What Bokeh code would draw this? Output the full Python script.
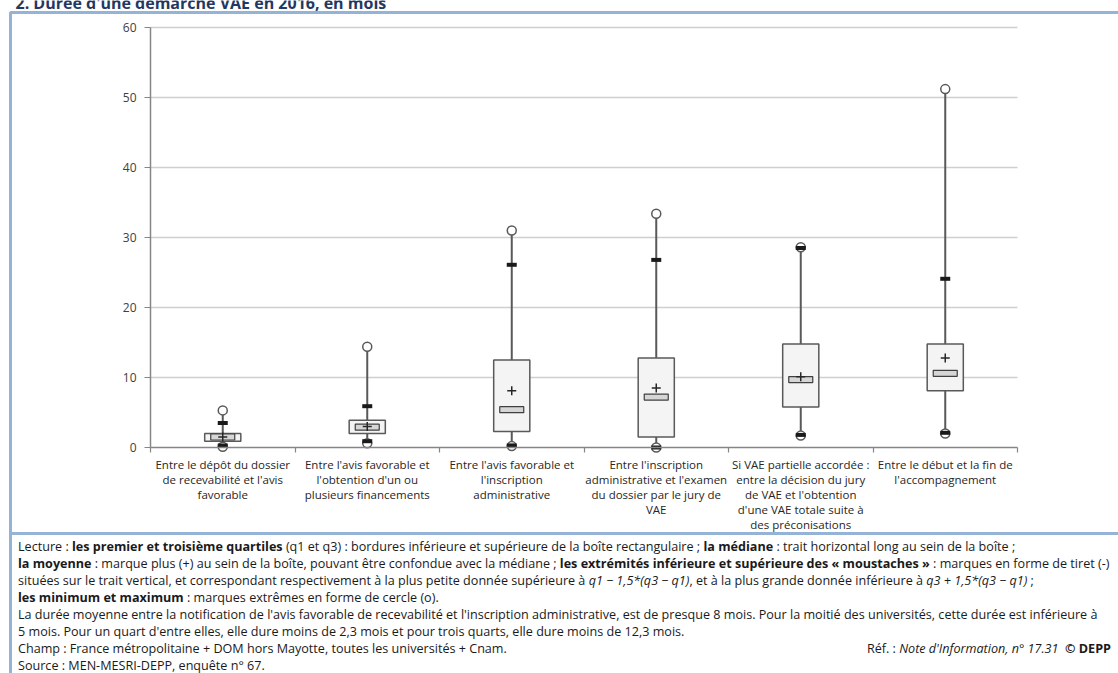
from bokeh.plotting import figure
from bokeh.models import Range1d, FixedTicker, LinearAxis, Div
from bokeh.core.properties import value
from bokeh.layouts import column
from bokeh.embed import file_html
from bokeh.resources import INLINE

# ---------------- data ----------------
categories = [
    "Entre le dépôt du dossier\nde recevabilité et l'avis\nfavorable",
    "Entre l'avis favorable et\nl'obtention d'un ou\nplusieurs financements",
    "Entre l'avis favorable et\nl'inscription\nadministrative",
    "Entre l'inscription\nadministrative et l'examen\ndu dossier par le jury de\nVAE",
    "Si VAE partielle accordée :\nentre la décision du jury\nde VAE et l'obtention\nd'une VAE totale suite à\ndes préconisations",
    "Entre le début et la fin de\nl'accompagnement",
]
minimum = [0.1, 0.6, 0.2, 0.0, 1.7, 2.0]
whisker_low = [0.3, 0.9, 0.3, 0.0, 1.8, 2.1]
q1 = [0.9, 2.0, 2.3, 1.5, 5.8, 8.1]
median = [1.5, 2.9, 5.4, 7.2, 9.7, 10.6]
mean = [1.5, 3.0, 8.1, 8.5, 10.1, 12.8]
q3 = [2.0, 3.9, 12.5, 12.8, 14.8, 14.8]
whisker_high = [3.5, 5.9, 26.1, 26.8, 28.5, 24.1]
maximum = [5.3, 14.4, 31.0, 33.4, 28.6, 51.2]
y_ticks = [0, 10, 20, 30, 40, 50, 60]

title = "2. Durée d'une démarche VAE en 2016, en mois"

# ---------------- layout (pixels of the page) ----------------
W, H = 1118, 536
PX_L, PX_R = 150, 1017          # plot area left / right
PY_T, PY_B = 27, 447            # plot area top (y=60) / bottom (y=0)
N = len(categories)
UX = (PX_R - PX_L) / N
UY = (PY_B - PY_T) / (y_ticks[-1] - y_ticks[0])


def px(v):
    return (v - PX_L) / UX


def py(v):
    return (PY_B - v) / UY


FONT = "Open Sans"
BLUE = "#95b3d7"
GREY = "#595959"

xs = [i + 0.5 for i in range(N)]

p = figure(width=W, height=H, x_range=Range1d(px(0), px(W)), y_range=Range1d(py(H), py(0)),
           output_backend="svg", toolbar_location=None, min_border=0,
           x_axis_type=None, y_axis_type=None,
           background_fill_color="white", border_fill_color="white")
p.outline_line_color = None
p.grid.visible = False
p.margin = 0

# y axis at x = 0
yax = LinearAxis(fixed_location=0, bounds=(y_ticks[0], y_ticks[-1]),
                 ticker=FixedTicker(ticks=y_ticks))
yax.axis_line_color = "#868686"
yax.axis_line_width = 1.5
yax.major_tick_line_color = "#868686"
yax.major_tick_out = 6
yax.major_tick_in = 0
yax.minor_tick_line_color = None
yax.major_label_text_font = FONT
yax.major_label_text_font_size = "12px"
yax.major_label_text_color = "#404040"
yax.major_label_standoff = 8
p.add_layout(yax, "left")

# x axis at y = 0 with separators between categories
xax = LinearAxis(fixed_location=0, bounds=(0, N),
                 ticker=FixedTicker(ticks=[], minor_ticks=list(range(N + 1))))
xax.axis_line_color = "#868686"
xax.axis_line_width = 1.5
xax.minor_tick_line_color = "#868686"
xax.minor_tick_out = 5
xax.minor_tick_in = 0
xax.minor_tick_line_width = 1.2
p.add_layout(xax, "below")

# horizontal grid lines
gy = y_ticks[1:]
p.segment(x0=[0] * len(gy), y0=gy, x1=[N] * len(gy), y1=gy,
          line_color="#cfcfcf", line_width=1.5)

# whiskers
p.segment(xs, q3, xs, maximum, line_color=GREY, line_width=2)
p.segment(xs, minimum, xs, q1, line_color=GREY, line_width=2)
# boxes
p.vbar(x=xs, width=0.25, bottom=q1, top=q3, fill_color="#f4f4f4",
       line_color=GREY, line_width=1.5)
# min / max circles
p.scatter(xs, maximum, marker="circle", size=9, fill_color="white",
          line_color=GREY, line_width=1.5)
p.scatter(xs, minimum, marker="circle", size=9, fill_color="white",
          line_color=GREY, line_width=1.5)
# whisker ends
p.rect(xs, whisker_high, width=10, height=4, width_units="screen", height_units="screen",
       fill_color="#1a1a1a", line_color=None)
p.rect(xs, whisker_low, width=10, height=4, width_units="screen", height_units="screen",
       fill_color="#1a1a1a", line_color=None)
# median
p.rect(xs, median, width=24, height=6, width_units="screen", height_units="screen",
       fill_color="#d6d6d6", line_color="#404040", line_width=1.2)
# mean
p.scatter(xs, mean, marker="cross", size=9, line_color="#262626", line_width=1.5)

# category labels under the axis
lx, ly, lt = [], [], []
for x, cat in zip(xs, categories):
    for j, line in enumerate(cat.split("\n")):
        lx.append(x)
        ly.append(py(464 + 15 * j))
        lt.append(line)
p.text(x=lx, y=ly, text=lt, text_align="center", text_baseline="middle",
       text_font=value(FONT), text_font_size="11.5px", text_color="#262626")

# blue frame
p.line(x=[px(1140), px(10), px(10)], y=[py(12), py(12), py(H + 20)],
       line_color=BLUE, line_width=3)
p.line(x=[px(10), px(1140)], y=[py(533), py(533)], line_color=BLUE, line_width=3)

# title (cut at the top edge, as in the reference)
p.text(x=[px(15)], y=[py(2)], text=[title], text_align="left", text_baseline="alphabetic",
       text_font=value(FONT), text_font_size="16px", text_font_style="bold",
       text_color="#1f3864")

notes = """<div style="margin-left:9px;border-left:3px solid #95b3d7;padding:2px 0 0 6px;height:150px;
font-family:'Open Sans';font-size:12.6px;line-height:17px;color:#1a1a1a;white-space:nowrap;">
Lecture : <b>les premier et troisième quartiles</b> (q1 et q3) : bordures inférieure et supérieure de la boîte rectangulaire ; <b>la médiane</b> : trait horizontal long au sein de la boîte ;<br>
<b>la moyenne</b> : marque plus (+) au sein de la boîte, pouvant être confondue avec la médiane ; <b>les extrémités inférieure et supérieure des « moustaches »</b> : marques en forme de tiret (-)<br>
situées sur le trait vertical, et correspondant respectivement à la plus petite donnée supérieure à <i>q1 − 1,5*(q3 − q1)</i>, et à la plus grande donnée inférieure à <i>q3 + 1,5*(q3 − q1)</i> ;<br>
<b>les minimum et maximum</b> : marques extrêmes en forme de cercle (o).<br>
La durée moyenne entre la notification de l'avis favorable de recevabilité et l'inscription administrative, est de presque 8 mois. Pour la moitié des universités, cette durée est inférieure à<br>
5 mois. Pour un quart d'entre elles, elle dure moins de 2,3 mois et pour trois quarts, elle dure moins de 12,3 mois.<br>
<div style="display:flex;justify-content:space-between;width:1093px;"><span>Champ : France métropolitaine + DOM hors Mayotte, toutes les universités + Cnam.</span><span>Réf. : <i>Note d'Information, n° 17.31</i> &nbsp;<b>© DEPP</b></span></div>
Source : MEN-MESRI-DEPP, enquête n° 67.
</div>"""

div = Div(text=notes, width=W, height=673 - H, margin=0)

layout = column(p, div, spacing=0)

open("out.html", "w").write(file_html(layout, INLINE))
